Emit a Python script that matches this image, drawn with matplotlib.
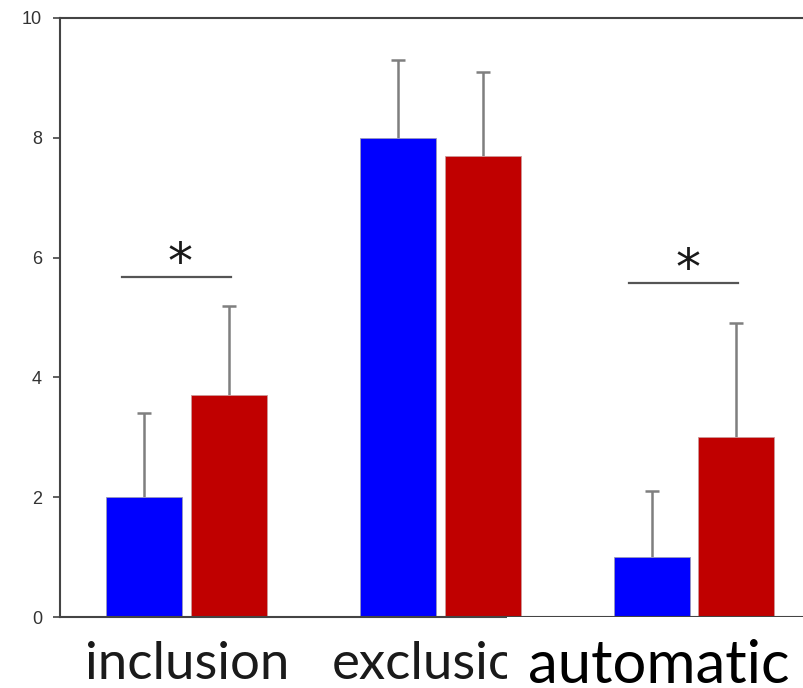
import numpy as np
import matplotlib.pyplot as plt
from matplotlib.patches import Rectangle

categories = ['inclusion', 'exclusion', 'automatic']
blue_vals = [2.0, 8.0, 1.0]
blue_err = [1.4, 1.3, 1.1]
red_vals = [3.7, 7.7, 3.0]
red_err = [1.5, 1.4, 1.9]
sig_groups = [0, 2]
sig_heights = [5.68, 5.58]
y_ticks = [0, 2, 4, 6, 8, 10]

fig = plt.figure(figsize=(8.04, 6.88), dpi=100)
# axes runs past the right edge, as in the cropped original
ax = fig.add_axes([60 / 804, 71 / 688, 800 / 804, 599 / 688])

x = np.arange(len(categories))
w = 0.3
off = 0.167
ax.bar(x - off, blue_vals, w, color='#0000ff', edgecolor='#9999bb', linewidth=0.6, zorder=2)
ax.bar(x + off, red_vals, w, color='#c00000', edgecolor='#cc9999', linewidth=0.6, zorder=2)
for xs, vals, errs in [(x - off, blue_vals, blue_err), (x + off, red_vals, red_err)]:
    eb = ax.errorbar(xs, vals, yerr=[np.zeros(3), errs], fmt='none',
                     ecolor='#7f7f7f', elinewidth=1.8, capsize=5, capthick=1.8, zorder=1)
    eb[1][0].set_visible(False)  # only upper caps

for g, h in zip(sig_groups, sig_heights):
    ax.plot([g - 0.256, g + 0.174], [h, h], color='#555555', lw=1.6)
    ax.text(g - 0.025, h - 0.02, '*', ha='center', va='baseline', fontsize=36,
            family='DejaVu Sans', color='#1a1a1a')

ax.set_xlim(-0.5, 2.655)
ax.set_ylim(0, 10)
ax.set_yticks(y_ticks)
ax.set_yticklabels([str(t) for t in y_ticks], fontsize=13, color='#333333',
                   family='Liberation Sans')
ax.tick_params(axis='y', direction='out', length=5, width=1.2, color='#444444', pad=8)
ax.set_xticks(x[:2])
ax.set_xticklabels(categories[:2], fontsize=38, family='Lato', color='#1a1a1a')
ax.tick_params(axis='x', length=0, pad=17)
ax.spines['right'].set_visible(False)
for s in ['left', 'top', 'bottom']:
    ax.spines[s].set_color('#444444')
    ax.spines[s].set_linewidth(1.5)

# white patch pasted over the last label
fig.patches.append(Rectangle((507 / 804, 0), 297 / 804, 71 / 688, transform=fig.transFigure,
                             facecolor='white', edgecolor='none', zorder=5))
fig.text(659 / 804, 5 / 688, categories[2], ha='center', va='baseline', fontsize=43,
         family='Lato', color='black', zorder=6)

fig.savefig('out.png', dpi=100)
